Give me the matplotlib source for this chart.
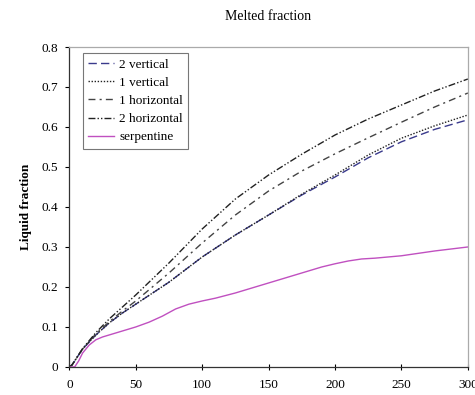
import matplotlib
matplotlib.use("Agg")
import matplotlib.pyplot as plt

plt.rcParams['font.family'] = ['Liberation Serif', 'DejaVu Serif']

# values
x_main = [0, 2, 10, 20, 30, 40, 50, 75, 100, 125, 150, 175, 200, 225, 250, 275, 300]
two_vertical = [0, 0.005, 0.045, 0.08, 0.11, 0.135, 0.157, 0.212, 0.275, 0.33, 0.38, 0.43, 0.475, 0.523, 0.563, 0.594, 0.618]
one_vertical = [0, 0.005, 0.045, 0.08, 0.11, 0.135, 0.157, 0.212, 0.275, 0.33, 0.38, 0.432, 0.48, 0.53, 0.572, 0.603, 0.63]
one_horizontal = [0, 0.005, 0.045, 0.083, 0.113, 0.14, 0.165, 0.235, 0.31, 0.38, 0.44, 0.49, 0.533, 0.573, 0.612, 0.65, 0.685]
two_horizontal = [0, 0.005, 0.046, 0.086, 0.12, 0.15, 0.18, 0.26, 0.345, 0.42, 0.48, 0.532, 0.58, 0.62, 0.655, 0.69, 0.72]

x_serp = [0, 4, 7, 10, 15, 20, 25, 30, 40, 50, 60, 70, 80, 90, 100, 110, 125, 150, 175, 190, 200, 210, 220, 230, 250, 275, 300]
serpentine = [0, 0, 0.015, 0.035, 0.055, 0.068, 0.075, 0.08, 0.09, 0.1, 0.112, 0.127, 0.145, 0.157, 0.165, 0.172, 0.185, 0.21, 0.235, 0.25, 0.258, 0.265, 0.27, 0.272, 0.278, 0.29, 0.30]

fig = plt.figure(figsize=(4.75, 3.95), dpi=100)
ax = fig.add_axes([0.146, 0.071, 0.839, 0.810])

ax.plot(x_main, two_vertical, color="#3a3a8c", lw=1.0, dashes=(6, 3), label="2 vertical")
ax.plot(x_main, one_vertical, color="#222222", lw=1.0, dashes=(1, 1.2), label="1 vertical")
ax.plot(x_main, one_horizontal, color="#444444", lw=1.0, dashes=(5, 3, 1.5, 3), label="1 horizontal")
ax.plot(x_main, two_horizontal, color="#222222", lw=1.0, dashes=(5, 1.5, 1, 1.5, 1, 1.5), label="2 horizontal")
ax.plot(x_serp, serpentine, color="#c050c0", lw=1.0, label="serpentine")

ax.set_xlim(0, 300)
ax.set_ylim(0, 0.8)
ax.set_xticks([0, 50, 100, 150, 200, 250, 300])
ax.set_yticks([0, 0.1, 0.2, 0.3, 0.4, 0.5, 0.6, 0.7, 0.8])
ax.set_yticklabels(["0", "0.1", "0.2", "0.3", "0.4", "0.5", "0.6", "0.7", "0.8"])
ax.tick_params(labelsize=9.5, length=3, width=0.8, pad=5)
ax.tick_params(axis="x", direction="inout", length=5, pad=6)

for s in ["left", "bottom"]:
    ax.spines[s].set_color("#333333")
    ax.spines[s].set_linewidth(0.9)
for s in ["top", "right"]:
    ax.spines[s].set_color("#aaaaaa")
    ax.spines[s].set_linewidth(0.9)

ax.set_ylabel("Liquid fraction", fontsize=9.5, fontweight="bold", labelpad=7)
fig.suptitle("Melted fraction", fontsize=10, x=0.565, y=0.975)

leg = ax.legend(loc="upper left", bbox_to_anchor=(0.033, 0.981), fontsize=9.5,
                frameon=True, fancybox=False, handlelength=2.0, handletextpad=0.4,
                labelspacing=0.45, borderpad=0.4, borderaxespad=0)
leg.get_frame().set_edgecolor("#555555")
leg.get_frame().set_linewidth(0.8)

fig.savefig("out.png", dpi=100)
